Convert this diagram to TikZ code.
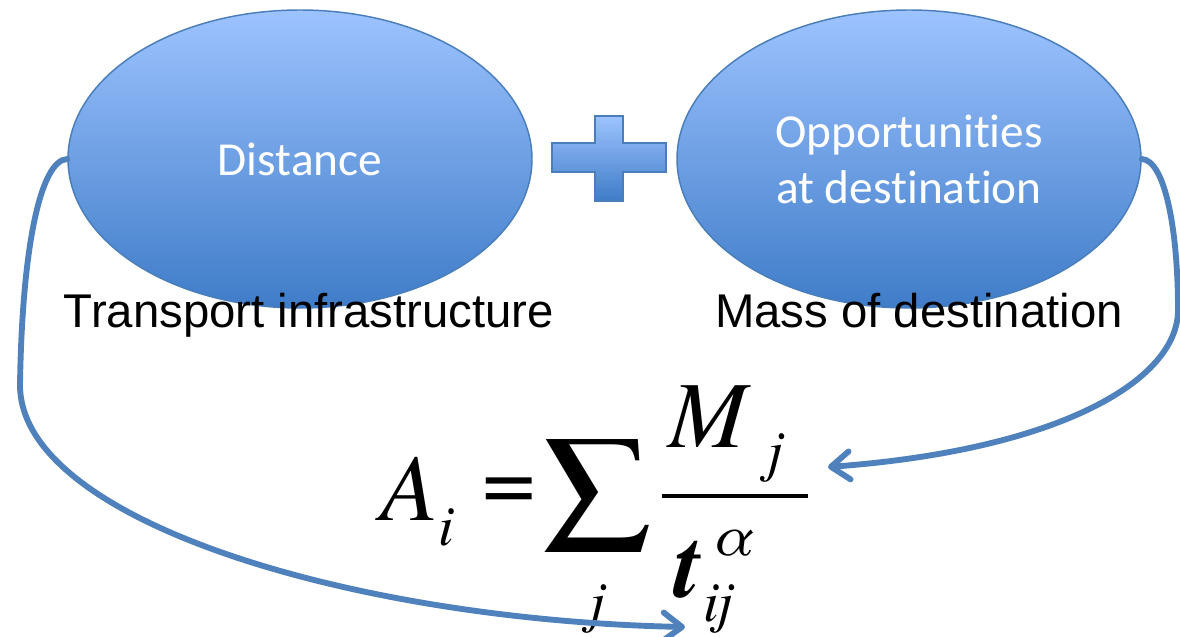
\documentclass[tikz,border=0pt]{standalone}
\usepackage{fontspec}
\setmainfont{Liberation Sans}
\newfontfamily\ovalfont[Ligatures={NoCommon}]{Carlito}
\newfontfamily\eqfont{TeX Gyre Termes}
\usetikzlibrary{positioning,arrows.meta,shapes.geometric}
\definecolor{ovalTop}{HTML}{9DC3FF}
\definecolor{ovalBot}{HTML}{3F7CC8}
\definecolor{ovalEdge}{HTML}{4A7EBB}
\definecolor{linkBlue}{HTML}{4F81BD}

\begin{document}
\begin{tikzpicture}[
  x=0.75pt, y=-0.75pt,
  %% Node styles
  oval/.style={
    ellipse, draw=ovalEdge, line width=1.1pt,
    top color=ovalTop, bottom color=ovalBot,
    minimum width=348pt, minimum height=223.5pt, inner sep=0pt,
    text=white, align=center,
    font=\ovalfont\fontsize{35.5}{42}\selectfont
  },
  caption/.style={anchor=base, inner sep=0pt,
    font=\fontsize{35.5}{42}\selectfont},
  eqbig/.style={anchor=base west, inner sep=0pt,
    font=\eqfont\itshape\fontsize{71}{71}\selectfont},
  eqsmall/.style={anchor=base west, inner sep=0pt,
    font=\eqfont\itshape\fontsize{43}{43}\selectfont},
  eqsym/.style={inner sep=0pt, font=\eqfont\fontsize{71}{71}\selectfont},
  %% Arrow styles
  link/.style={-{Straight Barb[length=14pt,width=21pt,round]},
    line width=4.4pt, color=linkBlue, line cap=round},
]
\useasboundingbox (0,0) rectangle (1180,636);

%% ── Ovals ──────────────────────────────────────────────────────────────────
\node[oval] (dist) at (300,159) {Distance};
\node[oval] (opp)  at (909,159) {Opportunit\kern0pt ies\\at destinat\kern0pt ion};

%% plus sign between the ovals
\shade[top color=ovalTop, bottom color=ovalBot, draw=ovalEdge, line width=1.1pt]
  (595,116) -- (623,116) -- (623,143) -- (666,143) -- (666,172) -- (623,172)
  -- (623,201) -- (595,201) -- (595,172) -- (552,172) -- (552,143) -- (595,143)
  -- cycle;

%% ── Captions ───────────────────────────────────────────────────────────────
\node[caption] (infra) at (309,327) {Transport infrastructure};
\node[caption] (mass)  at (919,327) {Mass of destination};

%% ── Formula ────────────────────────────────────────────────────────────────
\node[eqbig]   (eqA)   at (380,520) {A};
\node[eqsmall] (eqi)   at (438,545) {i};
\node[eqsym]   (eqeq)  at (509,495) {=};
\node[eqsym, font=\eqfont\fontsize{128}{128}\selectfont] (eqsum) at (597,496) {Σ};
\node[eqsmall, anchor=base] (eqsj) at (597,621) {j};
\node[eqbig]   (eqM)   at (668,447) {M};
\node[eqsmall] (eqMj)  at (767,470) {j};
\draw[line width=3pt] (662,496) -- (808,496);
\node[eqbig, font=\eqfont\bfseries\itshape\fontsize{71}{71}\selectfont] (eqt) at (674,597) {t};
\node[eqsmall] (eqal)  at (712,555) {α};
\node[eqsmall] (eqij)  at (703,621) {ij};

%% arrow ends
\coordinate (tipL) at (685,627);
\coordinate (tipR) at (828,467);

%% ── Links ──────────────────────────────────────────────────────────────────
\draw[link] (dist.west) .. controls (40,160) and (22,250) .. (20,385)
  .. controls (20,520) and (350,620) .. (tipL);
\draw[link] (opp.east) .. controls (1165,160) and (1178,230) .. (1178,310)
  .. controls (1178,380) and (1060,450) .. (tipR);

\end{tikzpicture}
\end{document}
